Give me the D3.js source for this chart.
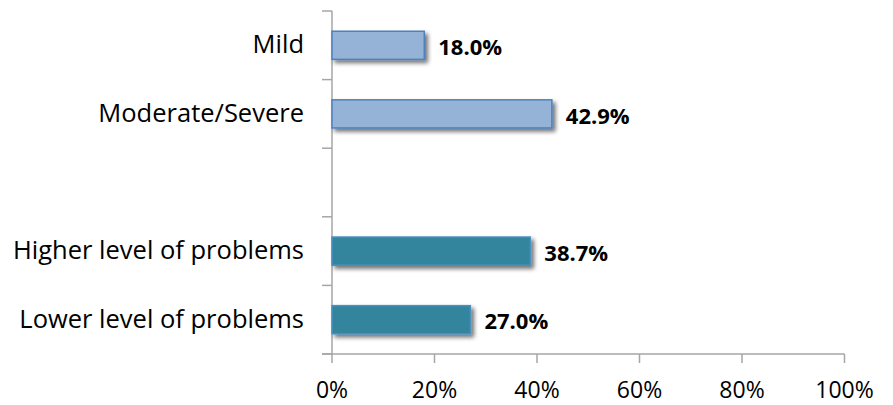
<!DOCTYPE html>
<html>
<head>
<meta charset="utf-8">
<script src="https://cdn.jsdelivr.net/npm/d3@7"></script>
<style>
  html, body { margin: 0; padding: 0; background: #fff; }
  svg { display: block; }
  text { font-family: "Open Sans", "Liberation Sans", sans-serif; fill: #000; }
</style>
</head>
<body>
<svg id="chart" width="893" height="405"></svg>
<script>
// Data (top to bottom)
const categories = ["Mild", "Moderate/Severe", "", "Higher level of problems", "Lower level of problems"];
const values = [18.0, 42.9, null, 38.7, 27.0];
const groups = ["severity", "severity", "gap", "problems", "problems"];
const xTicks = [0, 20, 40, 60, 80, 100];

const svg = d3.select("#chart");
const margin = { left: 332, right: 48.5, top: 11, bottom: 51 };
const W = 893, H = 405;

const x = d3.scaleLinear().domain([0, 100]).range([margin.left, W - margin.right]);
const y = d3.scaleBand().domain(d3.range(categories.length)).range([margin.top, H - margin.bottom]).paddingInner(0.59).paddingOuter(0.295);
const yTicks = d3.scalePoint().domain(d3.range(categories.length + 1)).range([margin.top, H - margin.bottom]);

const fill = { severity: "#95B3D7", problems: "#31859C" };
const stroke = { severity: "#4F81BD", problems: "#4A8FC0" };

const defs = svg.append("defs");
const f = defs.append("filter").attr("id", "shadow").attr("x", "-10%").attr("y", "-40%").attr("width", "130%").attr("height", "200%");
f.append("feGaussianBlur").attr("in", "SourceAlpha").attr("stdDeviation", 2.2).attr("result", "b");
f.append("feOffset").attr("in", "b").attr("dx", 3).attr("dy", 3).attr("result", "o");
f.append("feComponentTransfer").attr("in", "o").attr("result", "o2")
  .append("feFuncA").attr("type", "linear").attr("slope", 0.55);
const m = f.append("feMerge");
m.append("feMergeNode").attr("in", "o2");
m.append("feMergeNode").attr("in", "SourceGraphic");

// Axes lines
const axisColor = "#A6A6A6";
svg.append("line").attr("x1", x(0)).attr("x2", x(0)).attr("y1", margin.top).attr("y2", H - margin.bottom)
  .attr("stroke", axisColor).attr("stroke-width", 1.5);
svg.selectAll(".ytick").data(yTicks.domain()).join("line")
  .attr("x1", x(0) - 10).attr("x2", x(0)).attr("y1", d => yTicks(d)).attr("y2", d => yTicks(d))
  .attr("stroke", axisColor).attr("stroke-width", 1.5);
svg.append("line").attr("x1", x(0) - 10).attr("x2", x(100)).attr("y1", H - margin.bottom).attr("y2", H - margin.bottom)
  .attr("stroke", axisColor).attr("stroke-width", 1.5);
svg.selectAll(".xtick").data(xTicks).join("line")
  .attr("x1", d => x(d)).attr("x2", d => x(d)).attr("y1", H - margin.bottom).attr("y2", H - margin.bottom + 9)
  .attr("stroke", axisColor).attr("stroke-width", 1.5);
svg.selectAll(".xlab").data(xTicks).join("text")
  .attr("x", d => x(d)).attr("y", 398).attr("text-anchor", "middle")
  .style("font-size", "23px").text(d => d + "%");

const idx = d3.range(categories.length).filter(i => values[i] !== null);

// Bars
svg.selectAll(".bar").data(idx).join("rect")
  .attr("x", x(0)).attr("y", i => y(i))
  .attr("width", i => x(values[i]) - x(0)).attr("height", y.bandwidth())
  .attr("fill", i => fill[groups[i]]).attr("stroke", i => stroke[groups[i]]).attr("stroke-width", 1.5)
  .attr("filter", "url(#shadow)");

// Category labels
svg.selectAll(".cat").data(idx).join("text")
  .attr("x", 304).attr("y", i => y(i) + y.bandwidth() / 2).attr("dy", "0.32em")
  .attr("text-anchor", "end").style("font-size", "25.5px").text(i => categories[i]);

// Value labels
svg.selectAll(".val").data(idx).join("text")
  .attr("x", i => x(values[i]) + 14).attr("y", i => y(i) + y.bandwidth() / 2 + 2).attr("dy", "0.35em")
  .style("font-size", "22px").style("font-weight", "bold").text(i => values[i].toFixed(1) + "%");
</script>
</body>
</html>
